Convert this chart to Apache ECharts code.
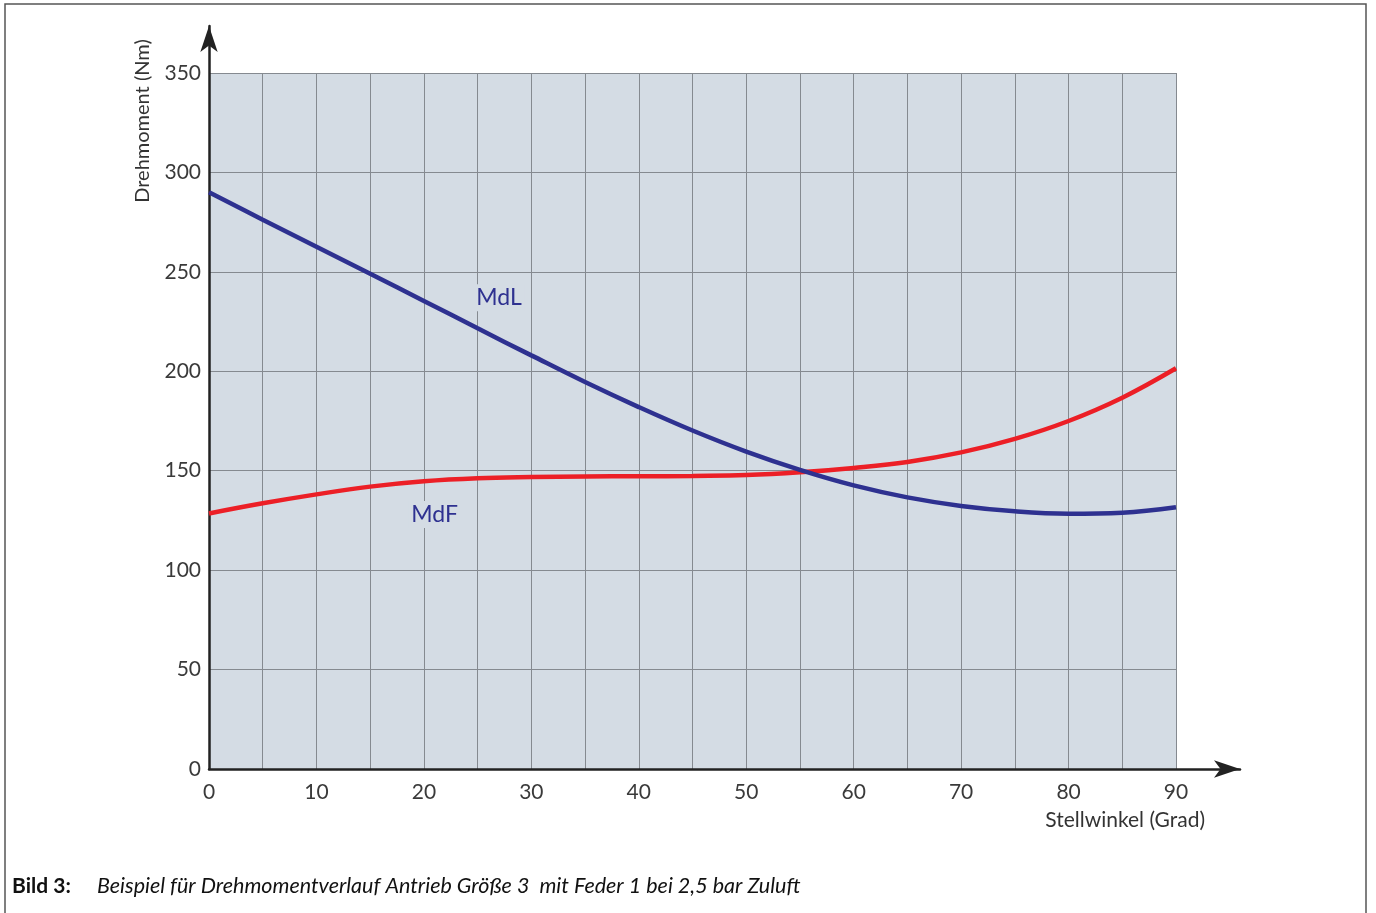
<!DOCTYPE html>
<html>
<head>
<meta charset="utf-8">
<script src="https://cdn.jsdelivr.net/npm/echarts@6/dist/echarts.min.js"></script>
<style>
html,body{margin:0;padding:0;background:#fff;}
#c{width:1376px;height:913px;}
</style>
</head>
<body>
<div id="c"></div>
<script>
// ---- data ----
const angles = [0,5,10,15,20,25,30,35,40,45,50,55,60,65,70,75,80,85,90];
const mdl = [290,276.2,262.6,249,235.4,221.6,208,194.6,182,170.2,159.6,150.4,142.6,136.6,132.3,129.6,128.4,128.9,131.6];
const mdf = [128.5,133.6,138.1,142,144.7,146.2,146.8,147.1,147.2,147.4,147.8,149.2,151.4,154.4,159.2,166,175,186.7,201.5];
const xTicks = [0,10,20,30,40,50,60,70,80,90];
const yTicks = [0,50,100,150,200,250,300,350];
const xName = 'Stellwinkel (Grad)';
const yName = 'Drehmoment (Nm)';
const captionLabel = 'Bild 3:';
const captionText = 'Beispiel für Drehmomentverlauf Antrieb Größe 3  mit Feder 1 bei 2,5 bar Zuluft';
const labelMdL = {name:'MdL', x:27, y:237};
const labelMdF = {name:'MdF', x:21, y:128};

const FONT = 'Lato, "Noto Sans", sans-serif';
const BLUE = '#2e3190';
const RED = '#ec1f26';
const GRIDBG = '#d4dce4';

const chart = echarts.init(document.getElementById('c'), null, {renderer:'canvas'});

function pairs(xs, ys){ return xs.map((x,i)=>[x, ys[i]]); }

function curveLabel(lbl){
  return {
    symbol:'circle', symbolSize:1, itemStyle:{color:'rgba(0,0,0,0)'}, silent:true,
    label:{show:true, position:'inside', formatter:'{b}', fontFamily:FONT, fontSize:23, color:BLUE,
           backgroundColor:GRIDBG, padding:[2,3]},
    data:[{name:lbl.name, coord:[lbl.x, lbl.y]}]
  };
}

const option = {
  animation:false,
  backgroundColor:'#ffffff',
  grid:[
    {left:209, right:200, top:73, bottom:144, show:true, backgroundColor:GRIDBG, borderWidth:0},
    {left:209, right:136, top:26, bottom:144, show:false}
  ],
  xAxis:[
    {type:'value', gridIndex:0, min:0, max:90, interval:5,
     axisLine:{show:false}, axisTick:{show:false},
     splitLine:{show:true, lineStyle:{color:'#858a90', width:1}},
     axisLabel:{margin:13, fontFamily:FONT, fontSize:21, color:'#3a3a3a',
       formatter:v => xTicks.indexOf(v) >= 0 ? String(v) : ''}},
    {type:'value', gridIndex:1, min:0, max:1,
     axisLine:{show:true, symbol:['none','arrow'], symbolSize:[13,26], lineStyle:{color:'#222', width:2.5}},
     axisTick:{show:false}, axisLabel:{show:false}, splitLine:{show:false}}
  ],
  yAxis:[
    {type:'value', gridIndex:0, min:0, max:350, interval:50,
     axisLine:{show:false}, axisTick:{show:false},
     splitLine:{show:true, lineStyle:{color:'#858a90', width:1}},
     axisLabel:{margin:8, fontFamily:FONT, fontSize:21, color:'#3a3a3a',
       formatter:v => yTicks.indexOf(v) >= 0 ? String(v) : ''}},
    {type:'value', gridIndex:1, min:0, max:1,
     axisLine:{show:true, symbol:['none','arrow'], symbolSize:[13,26], lineStyle:{color:'#222', width:2.5}},
     axisTick:{show:false}, axisLabel:{show:false}, splitLine:{show:false}}
  ],
  series:[
    {name:'MdL', type:'line', xAxisIndex:0, yAxisIndex:0, data:pairs(angles, mdl),
     smooth:0.4, showSymbol:false, lineStyle:{color:BLUE, width:4.5}, z:3,
     markPoint:curveLabel(labelMdL)},
    {name:'MdF', type:'line', xAxisIndex:0, yAxisIndex:0, data:pairs(angles, mdf),
     smooth:0.4, showSymbol:false, lineStyle:{color:RED, width:4.5}, z:2,
     markPoint:curveLabel(labelMdF)}
  ],
  graphic:[
    {type:'rect', shape:{x:5, y:4, width:1361, height:1000}, style:{fill:'none', stroke:'#555', lineWidth:1.5}, silent:true, z:-10},
    {type:'text', x:143, y:121, rotation:Math.PI/2, style:{text:yName, font:'20px '+FONT, fill:'#333', textAlign:'center', textVerticalAlign:'middle'}},
    {type:'text', x:1205, y:820, style:{text:xName, font:'21px '+FONT, fill:'#333', textAlign:'right', textVerticalAlign:'middle'}},
    {type:'text', x:12, y:886, style:{text:captionLabel, font:'bold 21px '+FONT, fill:'#111', textAlign:'left', textVerticalAlign:'middle'}},
    {type:'text', x:97, y:886, style:{text:captionText, font:'italic 21.5px '+FONT, fill:'#111', textAlign:'left', textVerticalAlign:'middle'}}
  ]
};
chart.setOption(option);
</script>
</body>
</html>
